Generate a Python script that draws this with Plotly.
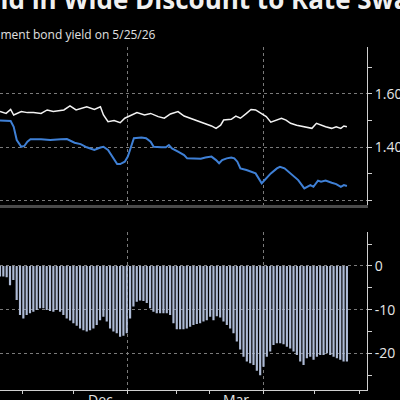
import pandas as pd
import plotly.graph_objects as go

# ---------------- data ----------------
base_date = "2026-01-01"

# day offsets from 2026-01-01 and values of the white line (swap rate)
white_days = [-84, -80, -77, -75, -70, -66, -62, -57, -53, -49, -42, -38, -34, -31, -27, -22, -18, -16, -13, -9,
              -5, -2, 2, 6, 11, 15, 20, 24, 28, 33, 37, 41, 46,
              48, 51, 55, 58, 61, 63, 68, 71, 74, 78, 81, 84, 88, 91, 94, 98, 101, 104, 107, 111,
              114, 117, 121, 124, 127, 130, 134, 137, 140, 142, 144]
white_vals = [1.533, 1.526, 1.541, 1.520, 1.533, 1.529, 1.529, 1.526, 1.539, 1.533,
              1.539, 1.554, 1.539, 1.545, 1.551, 1.541, 1.551, 1.520, 1.495, 1.499,
              1.491, 1.508, 1.520, 1.529, 1.520, 1.526, 1.514, 1.508, 1.524, 1.533,
              1.516, 1.508, 1.499,
              1.495, 1.489, 1.479, 1.470, 1.482, 1.501, 1.504, 1.516, 1.508, 1.526,
              1.541, 1.539, 1.526, 1.514, 1.493, 1.501, 1.508, 1.501, 1.489, 1.482,
              1.479, 1.476, 1.470, 1.489, 1.482, 1.476, 1.470, 1.476, 1.470, 1.479,
              1.476]

# blue line (government bond yield)
blue_days = [-84, -77, -75, -73, -70, -68, -66, -64, -57, -51, -44, -40, -35, -31, -27, -22, -18, -16, -13, -11,
             -9, -7, -5, -2, 0, 2, 4, 9, 12, 15, 17, 22, 25, 27, 29, 33, 37, 39, 44, 48,
             51, 55, 58, 60, 62, 65, 68, 70, 72, 74, 78, 81, 84, 88, 91, 94, 98, 100, 103, 107,
             112, 116, 120, 122, 125, 127, 130, 134, 137, 140, 142, 144]
blue_vals = [1.499, 1.4975, 1.476, 1.426, 1.401, 1.404, 1.420, 1.429, 1.429, 1.426,
             1.429, 1.430, 1.416, 1.411, 1.399, 1.389, 1.398, 1.401, 1.389, 1.370,
             1.351, 1.336, 1.336, 1.345, 1.364, 1.399, 1.433, 1.436, 1.433, 1.420,
             1.401, 1.399, 1.399, 1.4075, 1.395, 1.3825, 1.370, 1.3575, 1.356, 1.356,
             1.361, 1.364, 1.351, 1.339, 1.351, 1.3575, 1.361, 1.3575, 1.345, 1.320,
             1.314, 1.3075, 1.301, 1.264, 1.2825, 1.301, 1.320, 1.326, 1.320, 1.301,
             1.276, 1.245, 1.2575, 1.251, 1.274, 1.270, 1.274, 1.266, 1.261, 1.251,
             1.2575, 1.254]

# spread bars (bp), evenly spaced from first to last date
bar_first, bar_last = "2025-10-09", "2026-05-25"
spread_vals = [-2.4, -2.4, -2.6, -4.4, -3.2, -7.8, -11.2, -12.0, -11.2, -10.8,
               -10.5, -10.1, -9.7, -9.7, -10.1, -10.3, -10.5, -10.1, -10.5, -11.2,
               -12.0, -12.5, -13.1, -13.7, -14.3, -14.7, -15.0, -14.7, -14.3, -13.5,
               -12.4, -11.6, -12.7, -14.3, -15.0, -15.4, -16.2, -16.0, -15.4, -12.0,
               -9.3, -8.2, -7.9, -8.0, -8.5, -9.7, -10.5, -10.8, -10.8, -10.8,
               -10.8, -11.2, -13.1, -14.5, -14.5, -14.5, -14.3, -13.9, -13.5, -13.3,
               -13.1,
               -12.7, -12.4, -11.6, -12.4, -11.5, -11.8, -12.7, -13.5, -14.3, -15.4,
               -17.3, -19.1, -20.8, -21.9, -22.3, -22.7, -24.0, -25.0, -23.1, -20.8,
               -19.6, -18.1, -17.7, -17.7, -17.9, -18.5, -18.9, -19.6, -20.4, -21.9,
               -22.7, -21.1, -20.8, -21.5, -20.8, -20.4, -20.4, -20.0, -20.4, -20.8,
               -21.1, -21.5, -21.9, -21.9]

x_range = ["2025-10-09", "2026-06-07 05:00"]
grid_dates = ["2026-01-01", "2026-03-31"]
minor_dates = ["2025-10-24", "2025-11-26", "2026-02-02", "2026-02-24", "2026-05-04", "2026-06-02"]
month_labels = ["Dec", "Mar"]
month_label_dates = ["2025-12-14", "2026-03-13"]

top_ticks = [1.2, 1.4, 1.6]
top_ticktext = ["", "1.40", "1.60"]
top_minor = [1.3, 1.5, 1.7]
bot_ticks = [0, -10, -20]
bot_ticktext = ["0", "-10", "-20"]
bot_minor = [5, -5, -15, -25]

title_text = "Yield in Wide Discount to Rate Swaps"
subtitle_text = "Swap rate vs. government bond yield on 5/25/26"

# ---------------- build ----------------
b = pd.Timestamp(base_date)
white_x = [b + pd.Timedelta(days=d) for d in white_days]
blue_x = [b + pd.Timedelta(days=d) for d in blue_days]
bar_x = pd.date_range(bar_first, bar_last, periods=len(spread_vals))

AX = "#cfcfcf"
GRID = "#7a7a7a"
FONT = "Open Sans"

fig = go.Figure()
fig.add_trace(go.Bar(x=bar_x, y=spread_vals, xaxis="x2", yaxis="y2",
                     marker=dict(color="#aebbd6", line_width=0), showlegend=False))
fig.add_trace(go.Scatter(x=white_x, y=white_vals, mode="lines", xaxis="x", yaxis="y",
                         line=dict(color="#f2f2f2", width=1.5), showlegend=False))
fig.add_trace(go.Scatter(x=blue_x, y=blue_vals, mode="lines", xaxis="x", yaxis="y",
                         line=dict(color="#3f80d6", width=2), showlegend=False))

common_grid = dict(showgrid=True, gridcolor=GRID, griddash="dot", gridwidth=1)

fig.update_layout(
    template="none",
    width=400, height=400,
    margin=dict(l=0, r=33, t=47, b=10),
    paper_bgcolor="black", plot_bgcolor="black",
    bargap=0.35,
    showlegend=False,
    font=dict(family=FONT, color="#e6e6e6", size=13),
    xaxis=dict(domain=[0, 1], anchor="y", type="date", range=x_range,
               tickvals=grid_dates, showticklabels=False, ticks="",
               showline=True, linecolor="#4a4a4a", linewidth=3, zeroline=False,
               automargin=False, **common_grid),
    xaxis2=dict(domain=[0, 1], anchor="y2", type="date", range=x_range, matches="x",
                tickvals=grid_dates, ticktext=["", ""], ticks="outside", ticklen=3,
                tickcolor=AX, showline=True, linecolor=AX, linewidth=1, zeroline=False,
                automargin=False,
                minor=dict(tickvals=minor_dates, ticks="outside", ticklen=3, tickcolor=AX,
                           showgrid=False),
                **common_grid),
    yaxis=dict(domain=[0.5394, 1], anchor="x", side="right", range=[1.1827, 1.775],
               tickvals=top_ticks, ticktext=top_ticktext, ticks="outside", ticklen=4,
               tickcolor=AX, showline=True, linecolor=AX, linewidth=1, zeroline=False,
               tickfont=dict(size=14, color="#e6e6e6"), automargin=False,
               minor=dict(tickvals=top_minor, ticks="outside", ticklen=4, tickcolor=AX,
                          showgrid=False),
               **common_grid),
    yaxis2=dict(domain=[0, 0.4615], anchor="x2", side="right", range=[-28.4, 7.85],
                tickvals=bot_ticks, ticktext=bot_ticktext, ticks="outside", ticklen=4,
                tickcolor=AX, showline=True, linecolor=AX, linewidth=1, zeroline=False,
                tickfont=dict(size=14, color="#e6e6e6"), automargin=False,
                minor=dict(tickvals=bot_minor, ticks="outside", ticklen=4, tickcolor=AX,
                           showgrid=False),
                **common_grid),
)

annotations = [
    dict(text="<b>" + title_text + "</b>", xref="paper", yref="paper",
         x=-0.112, y=1.0816, xanchor="left", yanchor="bottom", showarrow=False,
         font=dict(family=FONT, size=26, color="#f0f0f0")),
    dict(text=subtitle_text, xref="paper", yref="paper",
         x=158 / 367, y=(390 - 34) / 343, xanchor="right", yanchor="middle", showarrow=False,
         font=dict(family=FONT, size=12, color="#e0e0e0")),
]
for lab, d in zip(month_labels, month_label_dates):
    annotations.append(dict(text=lab, x=d, xref="x2", yref="paper", y=0, yanchor="top",
                            yshift=2, showarrow=False,
                            font=dict(family=FONT, size=14, color="#e6e6e6")))
fig.update_layout(annotations=annotations)

fig.write_html("out.html")
